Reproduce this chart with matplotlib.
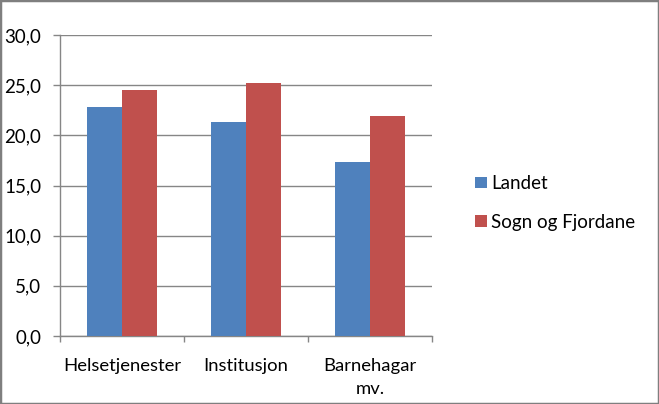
import matplotlib
matplotlib.use("Agg")
import matplotlib.pyplot as plt
from matplotlib.patches import Rectangle
import numpy as np

categories = ["Helsetjenester", "Institusjon", "Barnehagar\nmv."]
series_names = ["Landet", "Sogn og Fjordane"]
landet = [22.8, 21.3, 17.3]
sogn = [24.5, 25.2, 21.9]
yticks = [0, 5, 10, 15, 20, 25, 30]
ytick_labels = ["0,0", "5,0", "10,0", "15,0", "20,0", "25,0", "30,0"]

plt.rcParams['font.family'] = ['Lato', 'DejaVu Sans']

fig = plt.figure(figsize=(6.59, 4.04), dpi=100)
ax = fig.add_axes([60/659, 68/404, 372/659, 301/404])

x = np.arange(len(categories))
w = 35/124
ax.bar(x - w/2, landet, w, color="#4F81BD", label=series_names[0], zorder=3)
ax.bar(x + w/2, sogn, w, color="#C0504D", label=series_names[1], zorder=3)

ax.set_xlim(-0.5, 2.5)
ax.set_ylim(0, 30)
ax.set_yticks(yticks)
ax.set_yticklabels(ytick_labels, fontsize=13.5)
ax.yaxis.grid(True, color="#868686", linewidth=1.0, zorder=0)
ax.set_axisbelow(True)

ax.set_xticks([-0.5, 0.5, 1.5, 2.5])
ax.set_xticklabels([])
ax.set_xticks(x, minor=True)
ax.set_xticklabels(categories, minor=True, fontsize=13.3, linespacing=1.5, va="top")
ax.tick_params(axis="x", which="minor", length=0, pad=16)
ax.tick_params(axis="x", which="major", length=4.5, color="#868686", width=1)
ax.tick_params(axis="y", length=5, color="#868686", width=1, pad=8.5)

for s in ["top", "right"]:
    ax.spines[s].set_visible(False)
for s in ["left", "bottom"]:
    ax.spines[s].set_color("#868686")
    ax.spines[s].set_linewidth(1)

leg = fig.legend(loc="center left", bbox_to_anchor=(475/659, 1 - 203/404), frameon=False,
                 fontsize=13.5, handlelength=0.64, handleheight=0.56, handletextpad=0.22,
                 labelspacing=1.15, borderpad=0, borderaxespad=0)

fig.patches.append(Rectangle((0, 0), 1, 1, transform=fig.transFigure, fill=False,
                             edgecolor="#7F7F7F", linewidth=2.5))

fig.savefig("out.png", dpi=100)
